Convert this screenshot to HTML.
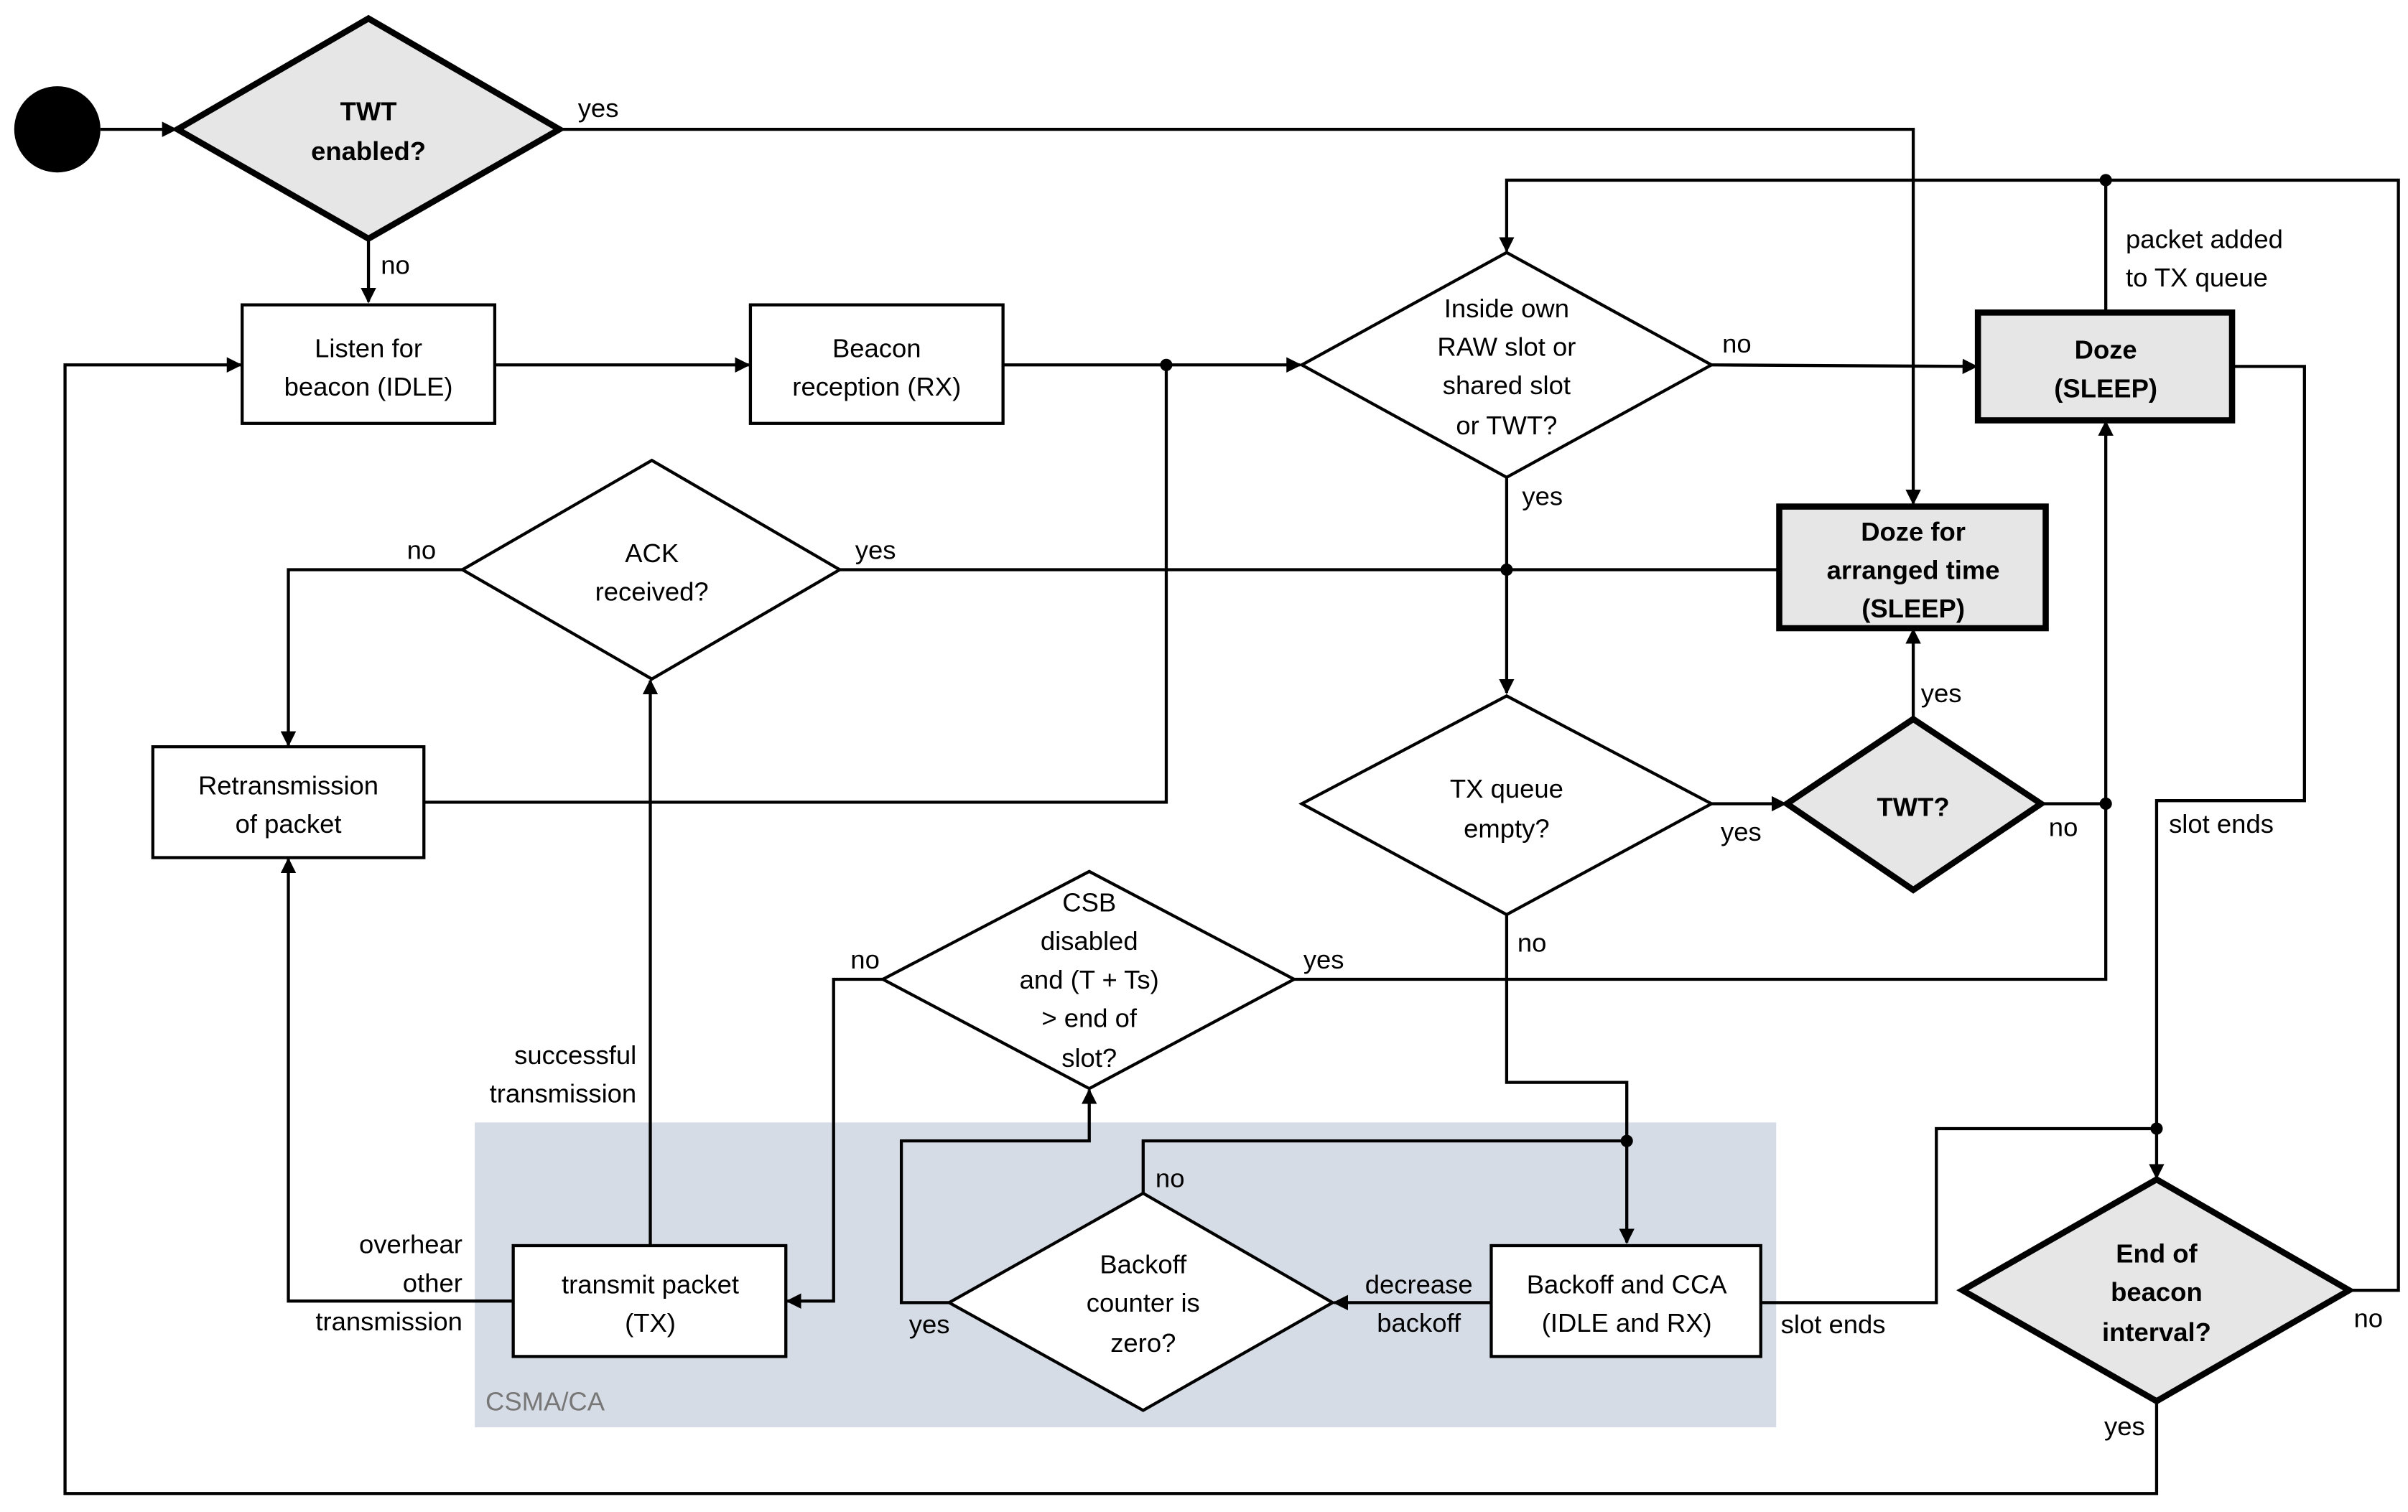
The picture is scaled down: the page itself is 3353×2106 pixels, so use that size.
<!DOCTYPE html>
<html><head><meta charset="utf-8"><style>
html,body{margin:0;padding:0;background:#fff}
svg{display:block}
text{font-family:"Liberation Sans",sans-serif;font-size:17px;fill:#000}
.c{text-anchor:middle}
.b{font-weight:bold}
.r{text-anchor:end}
</style></head><body>
<svg width="3353" height="2106" viewBox="0 0 1563 982" xmlns="http://www.w3.org/2000/svg">
<defs>
<marker id="a" markerWidth="10" markerHeight="10" refX="9" refY="5" orient="auto" markerUnits="userSpaceOnUse"><path d="M0,0 L10,5 L0,10 z" fill="#000"/></marker>
</defs>
<rect x="308" y="729" width="845" height="198" fill="#d6dce5"/>
<text x="315" y="916" style="fill:#777">CSMA/CA</text>
<g fill="none" stroke="#000" stroke-width="2">
<line x1="65" y1="84" x2="114" y2="84" marker-end="url(#a)"/>
<polyline points="363,84 1242,84 1242,327" marker-end="url(#a)"/>
<line x1="239" y1="155" x2="239" y2="196" marker-end="url(#a)"/>
<line x1="321" y1="237" x2="486" y2="237" marker-end="url(#a)"/>
<line x1="651" y1="237" x2="844" y2="237" marker-end="url(#a)"/>
<line x1="1111" y1="237" x2="1283" y2="238" marker-end="url(#a)"/>
<line x1="978" y1="310" x2="978" y2="450" marker-end="url(#a)"/>
<line x1="545" y1="370" x2="1155" y2="370"/>
<polyline points="300,370 187,370 187,484" marker-end="url(#a)"/>
<polyline points="275,521 757,521 757,237"/>
<line x1="1111" y1="522" x2="1159" y2="522" marker-end="url(#a)"/>
<line x1="1242" y1="467" x2="1242" y2="409" marker-end="url(#a)"/>
<polyline points="1325,522 1367,522 1367,274" marker-end="url(#a)"/>
<polyline points="978,594 978,703 1056,703 1056,807" marker-end="url(#a)"/>
<polyline points="840,636 1367,636 1367,522"/>
<polyline points="573,636 541,636 541,845 511,845" marker-end="url(#a)"/>
<line x1="422" y1="809" x2="422" y2="442" marker-end="url(#a)"/>
<polyline points="333,845 187,845 187,558" marker-end="url(#a)"/>
<polyline points="616,846 585,846 585,741 707,741 707,708" marker-end="url(#a)"/>
<polyline points="742,775 742,741 1056,741"/>
<line x1="968" y1="846" x2="866" y2="846" marker-end="url(#a)"/>
<polyline points="1143,846 1257,846 1257,733 1400,733"/>
<polyline points="1449,238 1496,238 1496,520 1400,520 1400,765" marker-end="url(#a)"/>
<polyline points="1525,838 1557,838 1557,117 978,117 978,163" marker-end="url(#a)"/>
<line x1="1367" y1="117" x2="1367" y2="203"/>
<polyline points="1400,910 1400,970 42,970 42,237 156,237" marker-end="url(#a)"/>
</g>
<g fill="#000">
<circle cx="37" cy="84" r="28"/>
<circle cx="757" cy="237" r="4"/><circle cx="978" cy="370" r="4"/><circle cx="1367" cy="522" r="4"/>
<circle cx="1056" cy="741" r="4"/><circle cx="1400" cy="733" r="4"/><circle cx="1367" cy="117" r="4"/>
</g>
<g stroke="#000" stroke-width="2" fill="#fff">
<rect x="157" y="198" width="164" height="77"/>
<rect x="487" y="198" width="164" height="77"/>
<polygon points="845,237 978,164 1111,237 978,310"/>
<polygon points="300,370 423,299 545,370 423,441"/>
<rect x="99" y="485" width="176" height="72"/>
<polygon points="845,522 978,452 1111,522 978,594"/>
<polygon points="573,636 707,566 840,636 707,707"/>
<rect x="333" y="809" width="177" height="72"/>
<polygon points="616,846 742,775 865,846 742,916"/>
<rect x="968" y="809" width="175" height="72"/>
</g>
<g stroke="#000" stroke-width="4" fill="#e6e6e6">
<polygon points="115,84 239,12 363,84 239,155"/>
<rect x="1284" y="203" width="165" height="70"/>
<rect x="1155" y="329" width="173" height="79"/>
<polygon points="1160,522 1242,467 1325,522 1242,578"/>
<polygon points="1274,838 1400,766 1525,838 1400,910"/>
</g>
<text class="c b" x="239" y="78">TWT</text><text class="c b" x="239" y="104">enabled?</text>
<text x="375" y="76">yes</text><text x="247" y="178">no</text>
<text class="c" x="239" y="232">Listen for</text><text class="c" x="239" y="257">beacon (IDLE)</text>
<text class="c" x="569" y="232">Beacon</text><text class="c" x="569" y="257">reception (RX)</text>
<text class="c" x="978" y="206">Inside own</text><text class="c" x="978" y="231">RAW slot or</text><text class="c" x="978" y="256">shared slot</text><text class="c" x="978" y="282">or TWT?</text>
<text x="1118" y="229">no</text><text x="988" y="328">yes</text>
<text class="c b" x="1367" y="233">Doze</text><text class="c b" x="1367" y="258">(SLEEP)</text>
<text x="1380" y="161">packet added</text><text x="1380" y="186">to TX queue</text>
<text class="c b" x="1242" y="351">Doze for</text><text class="c b" x="1242" y="376">arranged time</text><text class="c b" x="1242" y="401">(SLEEP)</text>
<text class="c" x="423" y="365">ACK</text><text class="c" x="423" y="390">received?</text>
<text x="555" y="363">yes</text><text x="264" y="363">no</text>
<text class="c" x="187" y="516">Retransmission</text><text class="c" x="187" y="541">of packet</text>
<text class="c" x="978" y="518">TX queue</text><text class="c" x="978" y="544">empty?</text>
<text x="1117" y="546">yes</text><text x="985" y="618">no</text>
<text class="c b" x="1242" y="530">TWT?</text>
<text x="1247" y="456">yes</text><text x="1330" y="543">no</text><text x="1408" y="541">slot ends</text>
<text class="c" x="707" y="592">CSB</text><text class="c" x="707" y="617">disabled</text><text class="c" x="707" y="642">and (T + Ts)</text><text class="c" x="707" y="667">&gt; end of</text><text class="c" x="707" y="693">slot?</text>
<text x="846" y="629">yes</text><text x="552" y="629">no</text>
<text class="r" x="413" y="691">successful</text><text class="r" x="413" y="716">transmission</text>
<text class="r" x="300" y="814">overhear</text><text class="r" x="300" y="839">other</text><text class="r" x="300" y="864">transmission</text>
<text class="c" x="422" y="840">transmit packet</text><text class="c" x="422" y="865">(TX)</text>
<text class="c" x="742" y="827">Backoff</text><text class="c" x="742" y="852">counter is</text><text class="c" x="742" y="878">zero?</text>
<text x="590" y="866">yes</text><text x="750" y="771">no</text>
<text class="c" x="921" y="840">decrease</text><text class="c" x="921" y="865">backoff</text>
<text class="c" x="1056" y="840">Backoff and CCA</text><text class="c" x="1056" y="865">(IDLE and RX)</text>
<text x="1156" y="866">slot ends</text>
<text class="c b" x="1400" y="820">End of</text><text class="c b" x="1400" y="845">beacon</text><text class="c b" x="1400" y="871">interval?</text>
<text x="1528" y="862">no</text><text x="1366" y="932">yes</text>
</svg>
</body></html>
